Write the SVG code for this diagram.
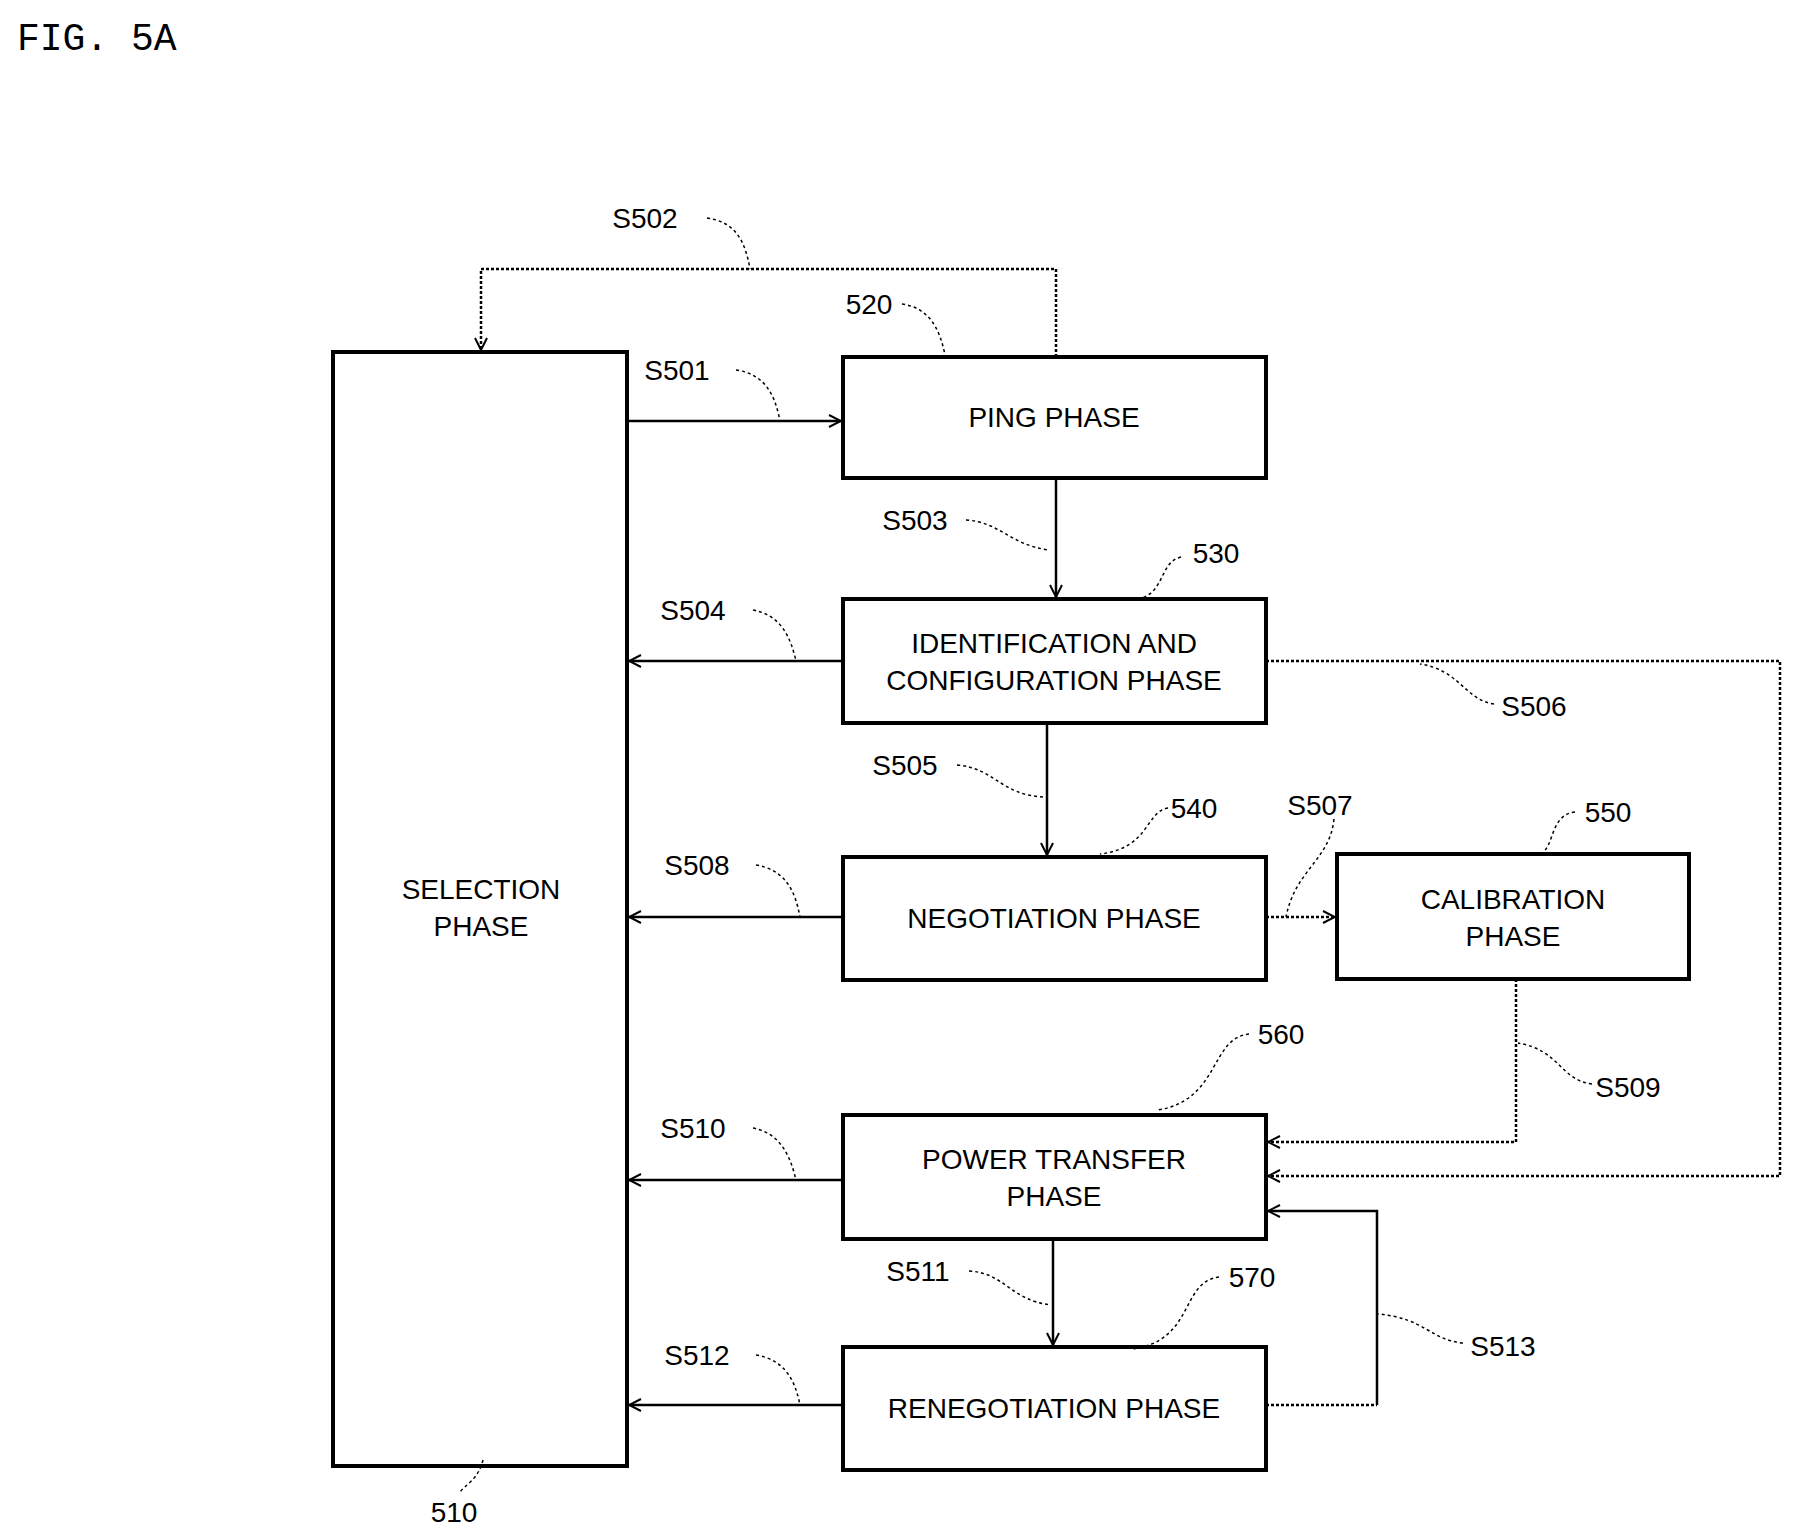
<svg xmlns="http://www.w3.org/2000/svg" width="1794" height="1537" viewBox="0 0 1794 1537">
<style>
.box{fill:#fff;stroke:#000;stroke-width:4}
.t{font-family:"Liberation Sans",Arial,sans-serif;font-size:28px;text-anchor:middle;fill:#000}
.l{font-family:"Liberation Sans",Arial,sans-serif;font-size:28px;text-anchor:middle;fill:#000}
.ln{fill:none;stroke:#000;stroke-width:2.5}
.dl{fill:none;stroke:#000;stroke-width:2.5;stroke-dasharray:3,2}
.ld{fill:none;stroke:#000;stroke-width:1.5;stroke-dasharray:3,3}
</style>
<defs>
<marker id="a" markerWidth="14" markerHeight="14" refX="13" refY="7" orient="auto" markerUnits="userSpaceOnUse">
<path d="M1,1 L13,7 L1,13" fill="none" stroke="#000" stroke-width="2"/>
</marker>
</defs>
<rect width="1794" height="1537" fill="#fff"/>
<text x="17" y="50" style="font-family:'Liberation Mono',monospace;font-size:38px">FIG. 5A</text>
<g id="n510"><rect class="box" x="333" y="352" width="294" height="1114"/><text class="t" x="481" y="899">SELECTION</text><text class="t" x="481" y="936">PHASE</text></g>
<g id="n520"><rect class="box" x="843" y="357" width="423" height="121"/><text class="t" x="1054" y="427">PING PHASE</text></g>
<g id="n530"><rect class="box" x="843" y="599" width="423" height="124"/><text class="t" x="1054" y="653">IDENTIFICATION AND</text><text class="t" x="1054" y="690">CONFIGURATION PHASE</text></g>
<g id="n540"><rect class="box" x="843" y="857" width="423" height="123"/><text class="t" x="1054" y="928">NEGOTIATION PHASE</text></g>
<g id="n550"><rect class="box" x="1337" y="854" width="352" height="125"/><text class="t" x="1513" y="909">CALIBRATION</text><text class="t" x="1513" y="946">PHASE</text></g>
<g id="n560"><rect class="box" x="843" y="1115" width="423" height="124"/><text class="t" x="1054" y="1169">POWER TRANSFER</text><text class="t" x="1054" y="1206">PHASE</text></g>
<g id="n570"><rect class="box" x="843" y="1347" width="423" height="123"/><text class="t" x="1054" y="1418">RENEGOTIATION PHASE</text></g>
<g id="connectors">
<path class="ln" d="M627,421 H841" marker-end="url(#a)"/>
<path class="dl" d="M1056,357 V269 H481 V350" marker-end="url(#a)"/>
<path class="ln" d="M1056,478 V597" marker-end="url(#a)"/>
<path class="ln" d="M843,661 H629" marker-end="url(#a)"/>
<path class="ln" d="M1047,723 V855" marker-end="url(#a)"/>
<path class="dl" d="M1266,661 H1780 V1176 H1268" marker-end="url(#a)"/>
<path class="dl" d="M1266,917 H1335" marker-end="url(#a)"/>
<path class="ln" d="M843,917 H629" marker-end="url(#a)"/>
<path class="dl" d="M1516,979 V1142 H1268" marker-end="url(#a)"/>
<path class="ln" d="M843,1180 H629" marker-end="url(#a)"/>
<path class="ln" d="M1053,1239 V1345" marker-end="url(#a)"/>
<path class="ln" d="M843,1405 H629" marker-end="url(#a)"/>
<path class="dl" d="M1266,1405 H1377"/>
<path class="ln" d="M1377,1405 V1211 H1268" marker-end="url(#a)"/>
</g>
<g id="labels">
<text class="l" x="645" y="228">S502</text><path class="ld" d="M707,218 C735,222 745,240 750,269"/>
<text class="l" x="869" y="314">520</text><path class="ld" d="M902,304 C930,308 940,330 945,355"/>
<text class="l" x="677" y="380">S501</text><path class="ld" d="M736,370 C765,374 775,395 780,421"/>
<text class="l" x="915" y="530">S503</text><path class="ld" d="M966,520 C1000,522 1010,545 1049,550"/>
<text class="l" x="1216" y="563">530</text><path class="ld" d="M1181,557 C1160,562 1165,590 1142,598"/>
<text class="l" x="693" y="620">S504</text><path class="ld" d="M753,610 C780,615 790,635 796,661"/>
<text class="l" x="1534" y="716">S506</text><path class="ld" d="M1494,704 C1465,700 1460,670 1420,664"/>
<text class="l" x="905" y="775">S505</text><path class="ld" d="M957,765 C995,768 1000,795 1044,797"/>
<text class="l" x="1194" y="818">540</text><path class="ld" d="M1168,808 C1145,812 1150,848 1100,854"/>
<text class="l" x="1320" y="815">S507</text><path class="ld" d="M1334,819 C1330,860 1295,870 1286,917"/>
<text class="l" x="1608" y="822">550</text><path class="ld" d="M1575,812 C1550,815 1555,845 1541,854"/>
<text class="l" x="697" y="875">S508</text><path class="ld" d="M756,865 C785,870 795,890 800,917"/>
<text class="l" x="1628" y="1097">S509</text><path class="ld" d="M1592,1084 C1560,1080 1560,1050 1518,1043"/>
<text class="l" x="1281" y="1044">560</text><path class="ld" d="M1249,1034 C1210,1038 1220,1100 1158,1110"/>
<text class="l" x="693" y="1138">S510</text><path class="ld" d="M753,1128 C780,1133 790,1155 796,1180"/>
<text class="l" x="918" y="1281">S511</text><path class="ld" d="M969,1271 C1005,1273 1010,1300 1051,1305"/>
<text class="l" x="1252" y="1287">570</text><path class="ld" d="M1219,1277 C1180,1282 1195,1340 1133,1349"/>
<text class="l" x="1503" y="1356">S513</text><path class="ld" d="M1463,1343 C1430,1340 1425,1318 1378,1314"/>
<text class="l" x="697" y="1365">S512</text><path class="ld" d="M756,1355 C785,1360 795,1380 800,1405"/>
<text class="l" x="454" y="1522">510</text><path class="ld" d="M483,1460 C478,1480 465,1485 460,1492"/>
</g>
</svg>
